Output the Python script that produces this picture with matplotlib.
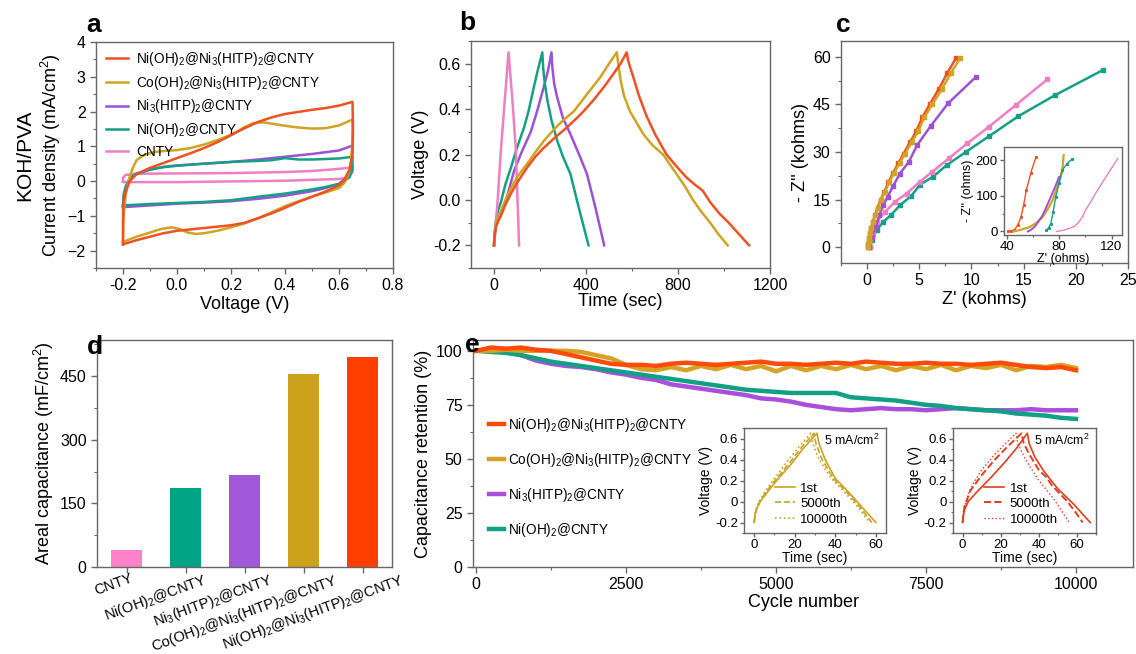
import numpy as np
import matplotlib
matplotlib.use("Agg")
import matplotlib.pyplot as plt
from matplotlib.ticker import MultipleLocator
from matplotlib.transforms import ScaledTranslation

plt.rcParams['font.family'] = ['Liberation Sans', 'DejaVu Sans']
plt.rcParams['mathtext.fontset'] = 'custom'
plt.rcParams['mathtext.rm'] = 'Liberation Sans'
plt.rcParams['mathtext.it'] = 'Liberation Sans:italic'
plt.rcParams['mathtext.bf'] = 'Liberation Sans:bold'

# ---------------- labels ----------------
lbl_ni_ni = r"Ni(OH)$_2$@Ni$_3$(HITP)$_2$@CNTY"
lbl_co_ni = r"Co(OH)$_2$@Ni$_3$(HITP)$_2$@CNTY"
lbl_ni3 = r"Ni$_3$(HITP)$_2$@CNTY"
lbl_nioh = r"Ni(OH)$_2$@CNTY"
lbl_cnty = "CNTY"

c_red = '#EE5224'
c_gold = '#CFA423'
c_purple = '#9B52D6'
c_teal = '#159F86'
c_pink = '#F07EC2'

# ---------------- panel a: CV ----------------
cv_red_v = [-0.2,-0.2,-0.198,-0.19,-0.175,-0.15,-0.1,-0.05,0.0,0.05,0.1,0.15,0.2,0.25,0.3,0.35,0.4,0.45,0.5,0.55,0.6,0.65,
            0.652,0.65,0.64,0.62,0.6,0.55,0.5,0.45,0.4,0.35,0.3,0.25,0.2,0.15,0.1,0.05,0.0,-0.05,-0.1,-0.15,-0.2]
cv_red_i = [-1.82,-1.2,-0.6,-0.3,0.0,0.2,0.38,0.52,0.66,0.8,0.95,1.12,1.32,1.52,1.7,1.83,1.93,1.99,2.05,2.1,2.17,2.28,
            1.5,0.8,0.35,0.02,-0.12,-0.3,-0.45,-0.6,-0.77,-0.93,-1.07,-1.2,-1.27,-1.31,-1.35,-1.39,-1.43,-1.5,-1.6,-1.7,-1.82]
cv_gold_v = [-0.2,-0.198,-0.19,-0.18,-0.165,-0.15,-0.12,-0.08,-0.04,0.0,0.05,0.1,0.15,0.2,0.25,0.28,0.32,0.36,0.4,0.45,0.5,0.55,0.6,0.65,
             0.65,0.645,0.635,0.62,0.6,0.55,0.5,0.45,0.4,0.35,0.3,0.25,0.2,0.15,0.1,0.07,0.04,0.01,-0.02,-0.06,-0.1,-0.15,-0.2]
cv_gold_i = [-1.75,-1.0,-0.4,0.0,0.35,0.6,0.76,0.84,0.87,0.89,0.95,1.05,1.18,1.33,1.55,1.66,1.69,1.64,1.59,1.54,1.51,1.52,1.6,1.77,
             1.2,0.6,0.2,-0.05,-0.2,-0.33,-0.45,-0.58,-0.72,-0.9,-1.07,-1.22,-1.33,-1.43,-1.5,-1.52,-1.48,-1.38,-1.33,-1.38,-1.48,-1.6,-1.75]
cv_purple_v = [-0.2,-0.198,-0.19,-0.175,-0.15,-0.1,-0.05,0.0,0.1,0.2,0.3,0.4,0.5,0.6,0.65,
               0.648,0.64,0.62,0.6,0.55,0.5,0.4,0.3,0.2,0.1,0.0,-0.1,-0.2]
cv_purple_i = [-0.75,-0.5,-0.2,0.05,0.2,0.33,0.41,0.45,0.5,0.55,0.62,0.7,0.78,0.88,1.02,
               0.6,0.3,0.05,-0.08,-0.2,-0.29,-0.42,-0.51,-0.58,-0.62,-0.65,-0.7,-0.75]
cv_teal_v = [-0.2,-0.198,-0.19,-0.175,-0.15,-0.1,-0.05,0.0,0.1,0.2,0.3,0.35,0.4,0.45,0.5,0.6,0.65,
             0.65,0.64,0.62,0.6,0.55,0.5,0.4,0.3,0.2,0.1,0.0,-0.1,-0.2]
cv_teal_i = [-0.7,-0.4,-0.15,0.08,0.22,0.33,0.4,0.44,0.5,0.55,0.58,0.6,0.66,0.62,0.62,0.65,0.7,
             0.35,0.12,0.0,-0.08,-0.17,-0.24,-0.36,-0.45,-0.55,-0.6,-0.63,-0.66,-0.7]
cv_pink_v = [-0.2,-0.2,-0.19,-0.15,0.0,0.2,0.4,0.5,0.6,0.65,
             0.65,0.63,0.6,0.4,0.2,0.0,-0.15,-0.19,-0.2]
cv_pink_i = [-0.02,0.1,0.18,0.21,0.22,0.23,0.26,0.29,0.35,0.4,
             0.25,0.1,0.06,0.01,-0.01,-0.03,-0.03,-0.03,-0.02]

# ---------------- panel b: GCD ----------------
gcd_red_t = [0,2,5,10,20,30,50,73,100,145,180,217,260,318,380,433,480,519,550,577,
             582,590,606,630,663,700,750,800,836,870,908,940,980,1020,1060,1109]
gcd_red_v = [-0.2,-0.17,-0.14,-0.115,-0.09,-0.07,-0.02,0.027,0.075,0.144,0.19,0.23,0.27,0.32,0.38,0.44,0.5,0.555,0.6,0.65,
             0.62,0.59,0.54,0.46,0.37,0.29,0.20,0.14,0.10,0.07,0.04,-0.01,-0.06,-0.1,-0.145,-0.2]
gcd_gold_t = [0,2,5,10,20,30,50,73,100,145,180,217,260,300,347,400,462,500,534,
              540,550,565,591,620,649,690,735,793,830,865,900,937,975,1016]
gcd_gold_v = [-0.2,-0.16,-0.13,-0.1,-0.075,-0.05,0.0,0.05,0.1,0.16,0.21,0.26,0.31,0.35,0.39,0.46,0.54,0.6,0.65,
              0.6,0.53,0.46,0.39,0.34,0.29,0.24,0.2,0.115,0.06,0.0,-0.05,-0.097,-0.15,-0.2]
gcd_teal_t = [0,2,5,10,20,30,50,73,100,131,150,174,190,210,
              214,220,232,250,275,300,332,370,411]
gcd_teal_v = [-0.2,-0.16,-0.12,-0.08,-0.04,-0.01,0.07,0.14,0.23,0.32,0.39,0.5,0.57,0.65,
              0.58,0.52,0.44,0.35,0.26,0.19,0.115,-0.04,-0.2]
gcd_purple_t = [0,2,5,10,20,30,50,88,120,160,190,217,235,250,
                254,262,275,300,332,370,404,440,479]
gcd_purple_v = [-0.2,-0.17,-0.14,-0.11,-0.08,-0.06,-0.01,0.13,0.21,0.3,0.4,0.5,0.57,0.65,
                0.58,0.51,0.45,0.36,0.29,0.2,0.115,-0.03,-0.2]
gcd_pink_t = [0,16,30,47,63,80,95,109]
gcd_pink_v = [-0.2,0.0,0.22,0.44,0.65,0.44,0.22,-0.2]

# ---------------- panel c: Nyquist ----------------
eis_red_x = [0.05,0.1,0.15,0.2,0.3,0.4,0.55,0.75,1.0,1.3,1.65,2.05,2.5,3.0,3.5,4.1,4.7,5.3,6.0,6.9,7.7,8.5]
eis_red_y = [0,1,2,3,4.5,6,8,10,12.5,15,17.5,20.5,23.5,26.5,29.5,33,36.5,41,45,50,55,59.5]
eis_gold_x = [0.05,0.1,0.15,0.2,0.3,0.42,0.57,0.78,1.04,1.35,1.72,2.13,2.6,3.12,3.64,4.26,4.89,5.5,6.25,7.2,8.05,8.9]
eis_gold_y = [0,1,2,3,4.5,6,8,10,12.5,15,17.5,20.5,23.5,26.5,29.5,33,36.5,41,45,50,55,59.5]
eis_purple_x = [0.2,0.45,0.83,1.17,1.55,1.97,2.5,3.14,4.0,4.8,6.1,7.75,10.44]
eis_purple_y = [0,3.2,6.4,10.1,13.2,15.9,19.3,23.2,26.9,32.2,38.2,45.3,53.7]
eis_pink_x = [0.3,0.6,0.92,1.71,2.67,3.78,5.05,6.25,7.84,9.59,11.65,14.25,17.27]
eis_pink_y = [0,4,8,11.1,14.3,16.9,20.6,23.8,28,32.7,37.9,44.8,52.9]
eis_teal_x = [0.3,0.45,0.92,1.55,2.29,3.14,4.25,5.05,6.3,7.65,9.5,11.7,14.5,18.0,22.57]
eis_teal_y = [0,2.2,5.4,8.0,10.1,13.2,16.2,19.6,22.2,25.9,30.1,35,41.3,47.9,55.8]

ins_red_x = [40.8,43,46,48.5,51,53,55,58.5,62.4]
ins_red_y = [0,1,4,18,40,75,115,165,209]
ins_gold_x = [45.3,50,57.4,62,67.4,71,75,79,82.5,83.5]
ins_gold_y = [0,4,12,22,40,60,87,128,172,214]
ins_purple_x = [56.1,58,61.1,64,67.4,70.5,73.7,77,80]
ins_purple_y = [0,3,12,26,45,70,97,125,153]
ins_teal_x = [70.4,72,73.7,75.5,77.5,80,82.5,86,89.6]
ins_teal_y = [3,10,22,55,97,135,172,190,202]
ins_pink_x = [78.3,83,87.5,92,95,98,100,104,107.7,116,124.8]
ins_pink_y = [0,3,8,15,26,42,59,82,106,155,205]

# ---------------- panel d: bars ----------------
bar_names = ["CNTY", r"Ni(OH)$_2$@CNTY", r"Ni$_3$(HITP)$_2$@CNTY",
             r"Co(OH)$_2$@Ni$_3$(HITP)$_2$@CNTY", r"Ni(OH)$_2$@Ni$_3$(HITP)$_2$@CNTY"]
bar_values = [40, 186, 218, 456, 496]
bar_colors = ['#FF82C8', '#00A383', '#A157DA', '#CCA21C', '#FF3F00']

# ---------------- panel e: cycling ----------------
cycles = np.arange(0, 10001, 250)
ret_red = [100,101.5,101,101.5,100.5,100,98.5,97,95.5,94,93.5,93.5,93,94,94.5,94,93.5,94,94.5,95,94,
           94,93.5,94,94.5,94,95,94.5,94,94,94.5,94,94,93.5,94,94.5,93.5,92.5,92,92.5,91]
ret_gold = [100,100,100.5,100,100,100,100,99.5,98,96.5,93.5,91.5,91,92.5,91,93,91.5,93.5,91.5,93,90.5,
            93,91,93,91.5,93.5,91.5,93,91,93,91.5,93.5,91,93,92,93.5,91,93,92.5,93.5,92]
ret_purple = [100,100,99.5,98,95.5,94,93,92.5,91.5,90,89,87.5,86.5,84.5,83.5,82.5,81.5,80.5,79.5,78,77.5,
              76.5,75,74,73,72.5,73,73.5,73,73,72.5,73,73.5,73,72.5,72.5,72.5,73,72.5,72.5,72.5]
ret_teal = [100,99.5,99,98,96.5,95,94,93,92,91,90,89,88,87,86,85,84,83,82,81.5,81,
            80.5,80.5,80.5,80.5,78.5,78,77.5,77,76,75,74.5,73.5,73,72.5,72,71,70.5,70,69,68.5]

# inset GCD curves
gi_1st_t = [0,0.5,1.5,3,7,12,18,24,31,32,35,40,47,53,60]
gi_1st_v = [-0.2,-0.12,-0.06,0.0,0.1,0.22,0.35,0.5,0.65,0.55,0.4,0.22,0.08,-0.05,-0.2]
gi_5k_t = [0,0.5,1.5,3,7,12,18,23.5,29.5,30.5,33.5,39,46,52,58]
gi_5k_v = [-0.2,-0.12,-0.05,0.01,0.12,0.24,0.38,0.52,0.65,0.55,0.4,0.22,0.08,-0.05,-0.2]
gi_10k_t = [0,0.5,1.5,3,7,12,17,22.5,28,29,32,38,45,51,57]
gi_10k_v = [-0.2,-0.11,-0.04,0.02,0.14,0.27,0.4,0.53,0.65,0.55,0.4,0.22,0.08,-0.05,-0.2]

ri_1st_t = [0,0.5,1,3,8,15,22,28,34,35,38,43,50,58,67]
ri_1st_v = [-0.2,-0.13,-0.08,0.0,0.1,0.23,0.37,0.5,0.65,0.55,0.42,0.28,0.12,-0.02,-0.2]
ri_5k_t = [0,0.5,1,4,10,17,24,31,32,35,40,44,47,55,60,63]
ri_5k_v = [-0.2,-0.12,-0.05,0.1,0.25,0.4,0.53,0.65,0.56,0.45,0.3,0.23,0.15,0.0,-0.12,-0.2]
ri_10k_t = [0,0.5,1,4,10,17,23,28,29,33,40,48,56]
ri_10k_v = [-0.2,-0.12,-0.05,0.12,0.3,0.45,0.56,0.65,0.55,0.4,0.2,0.02,-0.2]

# ======================================================
W, H = 1136, 654
fig = plt.figure(figsize=(W/100, H/100), dpi=100)

def rect(l, r, t, b):
    return [l/W, 1 - b/H, (r-l)/W, (b-t)/H]

spine_c = '#666666'

def style(ax, fs=11, ticklen=4):
    for s in ['top', 'right', 'left', 'bottom']:
        ax.spines[s].set_color(spine_c)
        ax.spines[s].set_linewidth(1.0)
    ax.tick_params(which='major', direction='out', length=ticklen, width=1, color=spine_c,
                   labelsize=fs, top=False, right=False)
    ax.tick_params(which='minor', direction='out', length=ticklen*0.6, width=0.8, color=spine_c,
                   top=False, right=False)

TICK = 11.5
LAB = 13

# ---------- a ----------
axa = fig.add_axes(rect(96, 393, 42, 268))
style(axa, TICK)
axa.plot(cv_red_v, cv_red_i, color=c_red, lw=1.8, label=lbl_ni_ni, zorder=5)
axa.plot(cv_gold_v, cv_gold_i, color=c_gold, lw=1.8, label=lbl_co_ni, zorder=4)
axa.plot(cv_purple_v, cv_purple_i, color=c_purple, lw=1.8, label=lbl_ni3, zorder=3)
axa.plot(cv_teal_v, cv_teal_i, color=c_teal, lw=1.8, label=lbl_nioh, zorder=3)
axa.plot(cv_pink_v, cv_pink_i, color=c_pink, lw=1.8, label=lbl_cnty, zorder=2)
axa.set_xlim(-0.3, 0.8)
axa.set_ylim(-2.5, 4)
axa.xaxis.set_minor_locator(MultipleLocator(0.1))
axa.yaxis.set_major_locator(MultipleLocator(1))
axa.yaxis.set_minor_locator(MultipleLocator(0.5))
axa.set_xticks([-0.2, 0.0, 0.2, 0.4, 0.6, 0.8])
axa.set_xticklabels(['-0.2', '0.0', '0.2', '0.4', '0.6', '0.8'])
axa.set_xlabel('Voltage (V)', fontsize=LAB, labelpad=2)
axa.set_ylabel(r'Current density (mA/cm$^2$)', fontsize=LAB, labelpad=3)
axa.legend(loc='upper left', bbox_to_anchor=(0.035, 0.965), frameon=False, fontsize=9.8,
           handlelength=1.6, handletextpad=0.6, labelspacing=0.42, borderpad=0, borderaxespad=0)
fig.text(25/W, 1-155/H, 'KOH/PVA', rotation=90, fontsize=15, ha='center', va='center')
fig.text(94/W, 1-25/H, 'a', fontsize=19, fontweight='bold', ha='center', va='center')

# ---------- b ----------
axb = fig.add_axes(rect(471, 770, 41, 268))
style(axb, TICK)
axb.plot(gcd_red_t, gcd_red_v, color=c_red, lw=1.8, zorder=5)
axb.plot(gcd_gold_t, gcd_gold_v, color=c_gold, lw=1.8, zorder=4)
axb.plot(gcd_purple_t, gcd_purple_v, color=c_purple, lw=1.8)
axb.plot(gcd_teal_t, gcd_teal_v, color=c_teal, lw=1.8)
axb.plot(gcd_pink_t, gcd_pink_v, color=c_pink, lw=1.8)
axb.set_xlim(-100, 1200)
axb.set_ylim(-0.3, 0.7)
axb.xaxis.set_major_locator(MultipleLocator(400))
axb.xaxis.set_minor_locator(MultipleLocator(200))
axb.yaxis.set_minor_locator(MultipleLocator(0.1))
axb.set_yticks([-0.2, 0.0, 0.2, 0.4, 0.6])
axb.set_yticklabels(['-0.2', '0.0', '0.2', '0.4', '0.6'])
axb.set_xlabel('Time (sec)', fontsize=LAB, labelpad=0)
axb.set_ylabel('Voltage (V)', fontsize=LAB, labelpad=3)
fig.text(467/W, 1-23/H, 'b', fontsize=19, fontweight='bold', ha='center', va='center')

# ---------- c ----------
axc = fig.add_axes(rect(841, 1128, 41, 263))
style(axc, TICK)
mk = dict(marker='s', markersize=3.5, lw=1.8)
axc.plot(eis_teal_x, eis_teal_y, color=c_teal, **mk)
axc.plot(eis_pink_x, eis_pink_y, color=c_pink, **mk)
axc.plot(eis_purple_x, eis_purple_y, color=c_purple, **mk)
axc.plot(eis_gold_x, eis_gold_y, color=c_gold, **mk, zorder=4)
axc.plot(eis_red_x, eis_red_y, color=c_red, **mk, zorder=3)
axc.set_xlim(-2.5, 25)
axc.set_ylim(-5, 65)
axc.xaxis.set_major_locator(MultipleLocator(5))
axc.xaxis.set_minor_locator(MultipleLocator(2.5))
axc.yaxis.set_major_locator(MultipleLocator(15))
axc.yaxis.set_minor_locator(MultipleLocator(7.5))
axc.set_xlabel("Z' (kohms)", fontsize=LAB, labelpad=2)
axc.set_ylabel("- Z'' (kohms)", fontsize=LAB, labelpad=3)
fig.text(843/W, 1-25/H, 'c', fontsize=19, fontweight='bold', ha='center', va='center')

axci = fig.add_axes(rect(1004, 1122, 147, 235))
style(axci, 9.5, 3)
axci.plot(ins_red_x, ins_red_y, color=c_red, lw=1.0, marker='s', markersize=1.2)
axci.plot(ins_gold_x, ins_gold_y, color=c_gold, lw=1.6)
axci.plot(ins_purple_x, ins_purple_y, color=c_purple, lw=1.4)
axci.plot(ins_teal_x, ins_teal_y, color=c_teal, lw=1.0, marker='s', markersize=1.2)
axci.plot(ins_pink_x, ins_pink_y, color=c_pink, lw=1.0)
axci.set_xlim(38, 128)
axci.set_ylim(-10, 237)
axci.set_xticks([40, 80, 120])
axci.set_yticks([0, 100, 200])
axci.xaxis.set_minor_locator(MultipleLocator(20))
axci.yaxis.set_minor_locator(MultipleLocator(50))
axci.tick_params(axis='both', pad=1.5)
axci.set_xlabel("Z' (ohms)", fontsize=9, labelpad=0)
axci.set_ylabel("- Z'' (ohms)", fontsize=9, labelpad=1)

# ---------- d ----------
axd = fig.add_axes(rect(97, 392, 340, 567))
style(axd, TICK)
xpos = np.arange(1, len(bar_values) + 1)
axd.bar(xpos, bar_values, width=0.51, color=bar_colors)
axd.set_xlim(0.5, 5.5)
axd.set_ylim(0, 535)
axd.yaxis.set_major_locator(MultipleLocator(150))
axd.yaxis.set_minor_locator(MultipleLocator(75))
axd.set_xticks(xpos)
axd.set_xticklabels(bar_names, rotation=20, ha='right', va='top', rotation_mode='anchor', fontsize=10.5)
axd.tick_params(axis='x', pad=-1)
label_shift_px = [3, 18, 24, 31, 38]
for lab, dx in zip(axd.get_xticklabels(), label_shift_px):
    lab.set_transform(lab.get_transform() + ScaledTranslation(dx/100, 0, fig.dpi_scale_trans))
axd.set_ylabel(r'Areal capacitance (mF/cm$^2$)', fontsize=LAB, labelpad=3)
fig.text(95/W, 1-347/H, 'd', fontsize=19, fontweight='bold', ha='center', va='center')

# ---------- e ----------
axe = fig.add_axes(rect(473, 1133, 340, 567))
style(axe, TICK)
axe.plot(cycles, ret_purple, color='#A94FDC', lw=3.2, label=lbl_ni3, zorder=2)
axe.plot(cycles, ret_teal, color='#12A084', lw=3.2, label=lbl_nioh, zorder=3)
axe.plot(cycles, ret_gold, color='#D4A224', lw=3.2, label=lbl_co_ni, zorder=4)
axe.plot(cycles, ret_red, color='#FF4A0A', lw=3.2, label=lbl_ni_ni, zorder=5)
axe.set_xlim(-50, 10950)
axe.set_ylim(0, 105)
axe.xaxis.set_major_locator(MultipleLocator(2500))
axe.xaxis.set_minor_locator(MultipleLocator(1250))
axe.yaxis.set_major_locator(MultipleLocator(25))
axe.yaxis.set_minor_locator(MultipleLocator(12.5))
axe.set_xlabel('Cycle number', fontsize=LAB, labelpad=1)
axe.set_ylabel('Capacitance retention (%)', fontsize=LAB, labelpad=3)
h, l = axe.get_legend_handles_labels()
order = [3, 2, 0, 1]
axe.legend([h[i] for i in order], [l[i] for i in order], loc='upper left',
           bbox_to_anchor=(0.024, 0.665), frameon=False, fontsize=9.8, handlelength=1.1,
           handletextpad=0.3, labelspacing=1.25, borderpad=0, borderaxespad=0)
fig.text(472/W, 1-345/H, 'e', fontsize=19, fontweight='bold', ha='center', va='center')

def gcd_inset(r, curves, color, xlim):
    ax = fig.add_axes(r)
    style(ax, 9.5, 3)
    for (t, v, ls, lw) in curves:
        ax.plot(t, v, color=color, ls=ls, lw=lw)
    ax.set_xlim(*xlim)
    ax.set_ylim(-0.3, 0.7)
    ax.set_xticks([0, 20, 40, 60])
    ax.set_yticks([-0.2, 0, 0.2, 0.4, 0.6])
    ax.set_yticklabels(['-0.2', '0', '0.2', '0.4', '0.6'])
    ax.xaxis.set_minor_locator(MultipleLocator(10))
    ax.yaxis.set_minor_locator(MultipleLocator(0.1))
    ax.tick_params(axis='both', pad=1.5)
    ax.set_xlabel('Time (sec)', fontsize=10, labelpad=0)
    ax.set_ylabel('Voltage (V)', fontsize=10, labelpad=1)
    ax.text(0.96, 0.88, r'5 mA/cm$^2$', transform=ax.transAxes, fontsize=9, ha='right', va='center')
    ax.legend(['1st', '5000th', '10000th'], loc='lower left', bbox_to_anchor=(0.22, 0.07),
              frameon=False, fontsize=9.5, handlelength=1.5, handletextpad=0.4,
              labelspacing=0.25, borderpad=0, borderaxespad=0)
    return ax

gcd_inset(rect(744, 886, 428, 533),
          [(gi_1st_t, gi_1st_v, '-', 1.2), (gi_5k_t, gi_5k_v, '--', 1.2), (gi_10k_t, gi_10k_v, ':', 1.2)],
          '#C9A227', (-5, 65))
gcd_inset(rect(953, 1096, 428, 533),
          [(ri_1st_t, ri_1st_v, '-', 1.2), (ri_5k_t, ri_5k_v, '--', 1.4), (ri_10k_t, ri_10k_v, ':', 1.0)],
          '#DD3E1E', (-5, 70))

fig.savefig('out.png', dpi=100)
